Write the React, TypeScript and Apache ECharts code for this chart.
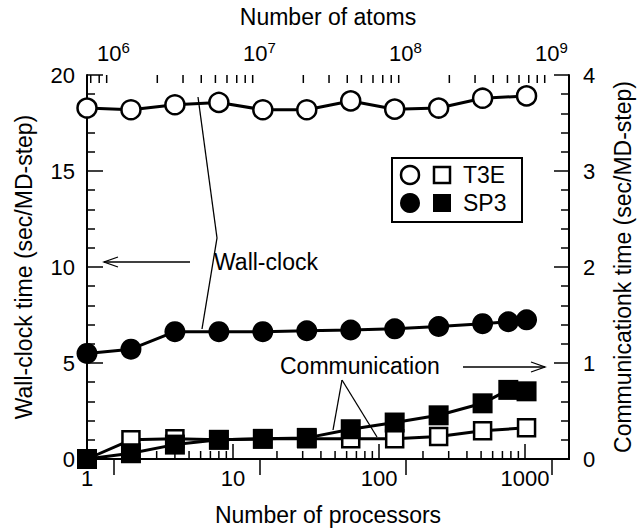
import React, { useEffect, useRef } from "react";
import * as echarts from "echarts";

// ---- data ----
const processorsT3E = [1, 2, 4, 8, 16, 32, 64, 128, 256, 512, 1024];
const processorsSP3 = [1, 2, 4, 8, 16, 32, 64, 128, 256, 512, 768, 1024];
const wallT3E = [18.28, 18.19, 18.45, 18.57, 18.19, 18.19, 18.65, 18.22, 18.28, 18.79, 18.91];
const wallSP3 = [5.5, 5.72, 6.63, 6.63, 6.63, 6.68, 6.72, 6.78, 6.9, 7.05, 7.15, 7.25];
const commT3E = [0, 0.2, 0.21, 0.2, 0.21, 0.21, 0.21, 0.21, 0.235, 0.295, 0.325];
const commSP3 = [0, 0.06, 0.15, 0.2, 0.21, 0.22, 0.31, 0.38, 0.455, 0.58, 0.72, 0.705];

const xMin = 1;
const xMax = 2000;
const atomsPerProc = 660000;
const atomsMin = xMin * atomsPerProc;
const atomsMax = xMax * atomsPerProc;
const wallMax = 20;
const commMax = 4;

// minor tick positions (k * 10^n) on the log axes
function logMinor(lo: number, hi: number): number[] {
  const out: number[] = [];
  for (let e = Math.floor(Math.log10(lo)); e <= Math.ceil(Math.log10(hi)); e++) {
    for (let k = 2; k <= 9; k++) {
      const v = k * Math.pow(10, e);
      if (v > lo && v < hi) out.push(v);
    }
  }
  return out;
}
const minorBottom = logMinor(xMin, xMax);
const minorTop = logMinor(atomsMin, atomsMax);

const FONT = "'Liberation Sans', Arial, Helvetica, sans-serif";

export default function App() {
  const ref = useRef<HTMLDivElement>(null);
  useEffect(() => {
    if (!ref.current) return;
    const chart = echarts.init(ref.current, null, { renderer: "svg" });
    const axisLine = { lineStyle: { color: "#000", width: 2 } };
    const label = { color: "#000", fontSize: 22, fontFamily: FONT };
    const nameStyle = { color: "#000", fontSize: 23, fontFamily: FONT };

    const tickSeries = (vals: number[], xi: number, yVal: number, dir: number) => ({
      type: "custom",
      xAxisIndex: xi,
      yAxisIndex: 0,
      silent: true,
      clip: false,
      z: 1,
      data: vals.map((v) => [v, yVal]),
      renderItem: (_p: any, api: any) => {
        const p = api.coord([api.value(0), api.value(1)]);
        return {
          type: "line",
          shape: { x1: p[0], y1: p[1], x2: p[0], y2: p[1] + dir * 8 },
          style: { stroke: "#000", lineWidth: 1.5 },
        };
      },
    });

    const lineStyle = { color: "#000", width: 3 };

    chart.setOption({
      animation: false,
      backgroundColor: "#fff",
      textStyle: { fontFamily: FONT },
      grid: { left: 87, right: 69, top: 68, bottom: 72 },
      xAxis: [
        {
          type: "log",
          min: xMin,
          max: xMax,
          position: "bottom",
          name: "Number of processors",
          nameLocation: "middle",
          nameGap: 44,
          nameTextStyle: nameStyle,
          axisLine,
          axisTick: { inside: true, length: 15, lineStyle: { width: 1.5 } },
          axisLabel: { ...label, margin: 8, showMaxLabel: false, formatter: (v: number) => String(Math.round(v)) },
          splitLine: { show: false },
        },
        {
          type: "log",
          min: atomsMin,
          max: atomsMax,
          position: "top",
          name: "Number of atoms",
          nameLocation: "middle",
          nameGap: 47,
          nameTextStyle: nameStyle,
          axisLine,
          axisTick: { inside: true, length: 16, lineStyle: { width: 1.5 } },
          axisLabel: {
            ...label,
            margin: 8,
            showMinLabel: false,
            showMaxLabel: false,
            formatter: (v: number) => "10{sup|" + Math.round(Math.log10(v)) + "}",
            rich: {
              sup: { fontSize: 15, fontFamily: FONT, color: "#000", verticalAlign: "bottom", padding: [0, 0, 12, 0] },
            },
          },
          splitLine: { show: false },
        },
      ],
      yAxis: [
        {
          type: "value",
          min: 0,
          max: wallMax,
          interval: 5,
          position: "left",
          name: "Wall-clock time (sec/MD-step)",
          nameLocation: "middle",
          nameGap: 52,
          nameTextStyle: nameStyle,
          axisLine: { show: true, ...axisLine },
          axisTick: { inside: true, length: 16, lineStyle: { width: 1.5 } },
          minorTick: { show: true, splitNumber: 5, length: 8, lineStyle: { color: "#000", width: 1.5 } },
          axisLabel: { ...label, margin: 12 },
          splitLine: { show: false },
        },
        {
          type: "value",
          min: 0,
          max: commMax,
          interval: 1,
          position: "right",
          name: "Communicationk time (sec/MD-step)",
          nameLocation: "middle",
          nameGap: 42,
          nameTextStyle: nameStyle,
          axisLine: { show: true, ...axisLine },
          axisTick: { inside: true, length: 15, lineStyle: { width: 1.5 } },
          minorTick: { show: true, splitNumber: 5, length: 8, lineStyle: { color: "#000", width: 1.5 } },
          axisLabel: { ...label, margin: 14 },
          splitLine: { show: false },
        },
      ],
      series: [
        tickSeries(minorBottom, 0, 0, -1),
        tickSeries(minorTop, 1, wallMax, 1),
        {
          type: "line",
          name: "T3E wall",
          xAxisIndex: 0,
          yAxisIndex: 0,
          data: processorsT3E.map((p, i) => [p, wallT3E[i]]),
          symbol: "circle",
          symbolSize: 19,
          clip: false,
          lineStyle,
          itemStyle: { color: "#fff", borderColor: "#000", borderWidth: 2.5 },
          z: 3,
        },
        {
          type: "line",
          name: "SP3 wall",
          xAxisIndex: 0,
          yAxisIndex: 0,
          data: processorsSP3.map((p, i) => [p, wallSP3[i]]),
          symbol: "circle",
          symbolSize: 21,
          clip: false,
          lineStyle,
          itemStyle: { color: "#000", borderColor: "#000", borderWidth: 0 },
          z: 3,
        },
        {
          type: "line",
          name: "T3E comm",
          xAxisIndex: 0,
          yAxisIndex: 1,
          data: processorsT3E.map((p, i) => [p, commT3E[i]]),
          symbol: "rect",
          symbolSize: 17,
          clip: false,
          lineStyle,
          itemStyle: { color: "#fff", borderColor: "#000", borderWidth: 2.5 },
          z: 3,
        },
        {
          type: "line",
          name: "SP3 comm",
          xAxisIndex: 0,
          yAxisIndex: 1,
          data: processorsSP3.map((p, i) => [p, commSP3[i]]),
          symbol: "rect",
          symbolSize: 20,
          clip: false,
          lineStyle,
          itemStyle: { color: "#000", borderColor: "#000", borderWidth: 0 },
          z: 4,
        },
      ],
      graphic: [
        // legend box
        { type: "rect", shape: { x: 392, y: 158, width: 130, height: 64 }, style: { fill: "#fff", stroke: "#000", lineWidth: 2 }, z: 10 },
        { type: "circle", shape: { cx: 410, cy: 175, r: 9 }, style: { fill: "#fff", stroke: "#000", lineWidth: 2.5 }, z: 11 },
        { type: "rect", shape: { x: 434, y: 167, width: 16, height: 16 }, style: { fill: "#fff", stroke: "#000", lineWidth: 2.5 }, z: 11 },
        { type: "text", x: 463, y: 175, style: { text: "T3E", fill: "#000", fontSize: 23, fontFamily: FONT, verticalAlign: "middle" }, z: 11 },
        { type: "circle", shape: { cx: 410, cy: 203, r: 10 }, style: { fill: "#000" }, z: 11 },
        { type: "rect", shape: { x: 433, y: 194, width: 18, height: 18 }, style: { fill: "#000" }, z: 11 },
        { type: "text", x: 463, y: 203, style: { text: "SP3", fill: "#000", fontSize: 23, fontFamily: FONT, verticalAlign: "middle" }, z: 11 },
        // Wall-clock annotation
        { type: "text", x: 214, y: 262, style: { text: "Wall-clock", fill: "#000", fontSize: 23, fontFamily: FONT, verticalAlign: "middle" }, z: 11 },
        { type: "line", shape: { x1: 104, y1: 262, x2: 190, y2: 262 }, style: { stroke: "#000", lineWidth: 1.3 }, z: 11 },
        { type: "polyline", shape: { points: [[118, 257], [104, 262], [118, 267]] }, style: { stroke: "#000", lineWidth: 1.3, fill: null }, z: 11 },
        { type: "line", shape: { x1: 198, y1: 97, x2: 217, y2: 238 }, style: { stroke: "#000", lineWidth: 1.3 }, z: 11 },
        { type: "line", shape: { x1: 202, y1: 329, x2: 217, y2: 238 }, style: { stroke: "#000", lineWidth: 1.3 }, z: 11 },
        // Communication annotation
        { type: "text", x: 280, y: 366, style: { text: "Communication", fill: "#000", fontSize: 23, fontFamily: FONT, verticalAlign: "middle" }, z: 11 },
        { type: "line", shape: { x1: 463, y1: 367, x2: 545, y2: 367 }, style: { stroke: "#000", lineWidth: 1.3 }, z: 11 },
        { type: "polyline", shape: { points: [[531, 362], [545, 367], [531, 372]] }, style: { stroke: "#000", lineWidth: 1.3, fill: null }, z: 11 },
        { type: "line", shape: { x1: 342, y1: 380, x2: 333, y2: 430 }, style: { stroke: "#000", lineWidth: 1.3 }, z: 11 },
        { type: "line", shape: { x1: 342, y1: 380, x2: 377, y2: 437 }, style: { stroke: "#000", lineWidth: 1.3 }, z: 11 },
      ],
    });
    return () => chart.dispose();
  }, []);
  return <div ref={ref} style={{ position: "fixed", left: 0, top: 0, width: 642, height: 531 }} />;
}
